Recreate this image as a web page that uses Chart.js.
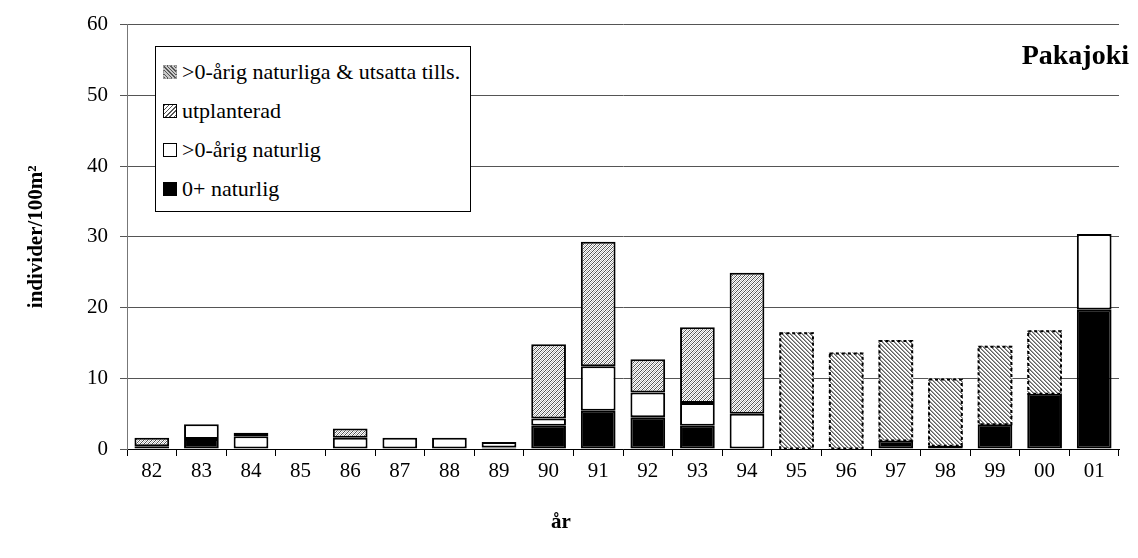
<!DOCTYPE html>
<html>
<head>
<meta charset="utf-8">
<script src="https://cdn.jsdelivr.net/npm/chart.js@4/dist/chart.umd.min.js"></script>
<style>
  html, body { margin: 0; padding: 0; background: #fff; }
  #wrap { position: relative; width: 1138px; height: 558px; font-family: "Liberation Serif", "DejaVu Serif", serif; }
  #c { position: absolute; left: 0; top: 0; }
  #legend { position: absolute; left: 155px; top: 46px; height: 166px; padding: 0 10px 0 7px; border: 1px solid #000; background: #fff; box-sizing: border-box; }
  .row { position: relative; height: 39px; display: flex; align-items: center; font-family: "Liberation Serif", serif; font-size: 22px; color: #000; white-space: nowrap; }
  .sw { width: 14px; height: 14px; margin-right: 5px; box-sizing: border-box; flex: none; }
  #title { position: absolute; right: 9px; top: 41px; font-family: "Liberation Serif", serif; font-size: 28px; line-height: 1; font-weight: bold; color: #000; }
  #xt { position: absolute; left: 551px; top: 511px; font-family: "Liberation Serif", serif; font-size: 21px; line-height: 1; font-weight: bold; color: #000; }
</style>
</head>
<body>
<div id="wrap">
  <canvas id="c" width="1138" height="558"></canvas>
  <div id="legend"></div>
  <div id="title">Pakajoki</div>
  <div id="xt">år</div>
</div>
<script>
// ---- data ----
const years = ['82','83','84','85','86','87','88','89','90','91','92','93','94','95','96','97','98','99','00','01'];
const nat0    = [0, 1.4, 0, 0, 0, 0, 0, 0.2, 3.3, 5.4, 4.5, 3.3, 0, 0, 0, 1.2, 0.45, 3.5, 7.8, 19.7];
const natOld  = [0.4, 2.1, 1.8, 0, 1.6, 1.6, 1.6, 0.8, 1.0, 6.3, 3.5, 3.2, 5.0, 0, 0, 0, 0, 0, 0, 10.7];
const utpl    = [1.2, 0, 0.5, 0, 1.3, 0, 0, 0, 10.5, 17.6, 4.7, 10.7, 19.9, 0, 0, 0, 0, 0, 0, 0];
const mixed   = [0, 0, 0, 0, 0, 0, 0, 0, 0, 0, 0, 0, 0, 16.5, 13.65, 14.2, 9.5, 11.1, 9.0, 0];
const yTicks  = [0, 10, 20, 30, 40, 50, 60];
const seriesNames = ['0+ naturlig', '>0-årig naturlig', 'utplanterad', '>0-årig naturliga & utsatta tills.'];

// ---- patterns ----
function pattern(kind) {
  const c = document.createElement('canvas');
  c.width = 4; c.height = 4;
  const x = c.getContext('2d');
  x.fillStyle = '#ffffff';
  x.fillRect(0, 0, 4, 4);
  if (kind === 'utpl') {
    x.fillStyle = '#505050';
    for (let i = 0; i < 4; i++) x.fillRect(i, 3 - i, 1, 1);
    x.fillStyle = '#b8b8b8';
    for (let i = 0; i < 4; i++) x.fillRect((i + 2) % 4, 3 - i, 1, 1);
  } else {
    x.fillStyle = '#606060';
    for (let i = 0; i < 4; i++) x.fillRect(i, i, 1, 1);
    x.fillStyle = '#a0a0a0';
    for (let i = 0; i < 4; i++) x.fillRect((i + 1) % 4, i, 1, 1);
  }
  return x.createPattern(c, 'repeat');
}
const ctx = document.getElementById('c').getContext('2d');
const patUtpl = pattern('utpl');
const patMix = pattern('mix');

const nz = a => a.map(v => v === 0 ? null : v);

const dashedPlugin = {
  id: 'dashed',
  afterDatasetsDraw(chart) {
    const meta = chart.getDatasetMeta(3);
    const g = chart.ctx;
    g.save();
    g.strokeStyle = '#000';
    g.lineWidth = 2;
    g.setLineDash([3, 3]);
    meta.data.forEach((el, i) => {
      if (mixed[i] === 0) return;
      const p = el.getProps(['x', 'y', 'base', 'width'], true);
      g.strokeRect(p.x - p.width / 2 + 1, p.y + 1, p.width - 2, p.base - p.y - 1);
    });
    g.restore();
  }
};

new Chart(ctx, {
  type: 'bar',
  data: {
    labels: years,
    datasets: [
      { label: seriesNames[0], data: nz(nat0), backgroundColor: '#000', borderColor: '#000', borderWidth: 2, borderSkipped: false },
      { label: seriesNames[1], data: nz(natOld), backgroundColor: '#fff', borderColor: '#000', borderWidth: 2, borderSkipped: false },
      { label: seriesNames[2], data: nz(utpl), backgroundColor: patUtpl, borderColor: '#000', borderWidth: 2, borderSkipped: false },
      { label: seriesNames[3], data: nz(mixed), backgroundColor: patMix, borderColor: 'rgba(0,0,0,0)', borderWidth: 0, borderSkipped: false }
    ]
  },
  options: {
    responsive: false,
    animation: false,
    maintainAspectRatio: false,
    layout: { padding: { left: 0, right: 19, top: 21, bottom: 0 } },
    datasets: { bar: { categoryPercentage: 1.0, barPercentage: 0.7 } },
    plugins: { legend: { display: false }, tooltip: { enabled: false } },
    scales: {
      x: {
        stacked: true,
        offset: true,
        grid: { offset: true, drawOnChartArea: false, drawTicks: true, tickLength: 7, color: '#000' },
        border: { color: '#000', width: 1 },
        ticks: { color: '#000', padding: 3, font: { family: "'Liberation Serif'", size: 21 }, maxRotation: 0 },
        afterFit(s) { s.height = 109; }
      },
      y: {
        stacked: true,
        min: 0, max: 60,
        afterBuildTicks(s) { s.ticks = yTicks.map(v => ({ value: v })); },
        grid: { color: '#555', tickLength: 7, drawTicks: true },
        border: { color: '#777', width: 1 },
        ticks: { color: '#000', padding: 12, font: { family: "'Liberation Serif'", size: 21 } },
        title: { display: true, text: 'individer/100m²', color: '#000', font: { family: "'Liberation Serif'", size: 21, weight: 'bold' }, padding: { top: 24, bottom: 0 } },
        afterFit(s) { s.width = 127; }
      }
    }
  },
  plugins: [dashedPlugin]
});

// ---- legend (HTML) ----
const legend = document.getElementById('legend');
const swatchStyles = [
  'background:#000;border:1px solid #000;',
  'background:#fff;border:1px solid #000;',
  'background:repeating-linear-gradient(135deg,#555 0 1px,#fff 1px 3px);border:1px solid #000;',
  'background:repeating-linear-gradient(45deg,#555 0 1px,#c8c8c8 1px 2.5px);border:1px dashed #999;'
];
const order = [3, 2, 1, 0];
const inner = document.createElement('div');
inner.style.paddingTop = '5px';
order.forEach((k) => {
  const row = document.createElement('div');
  row.className = 'row';
  const sw = document.createElement('span');
  sw.className = 'sw';
  sw.setAttribute('style', swatchStyles[k]);
  const t = document.createElement('span');
  t.textContent = seriesNames[k];
  row.appendChild(sw);
  row.appendChild(t);
  inner.appendChild(row);
});
legend.appendChild(inner);
</script>
</body>
</html>
